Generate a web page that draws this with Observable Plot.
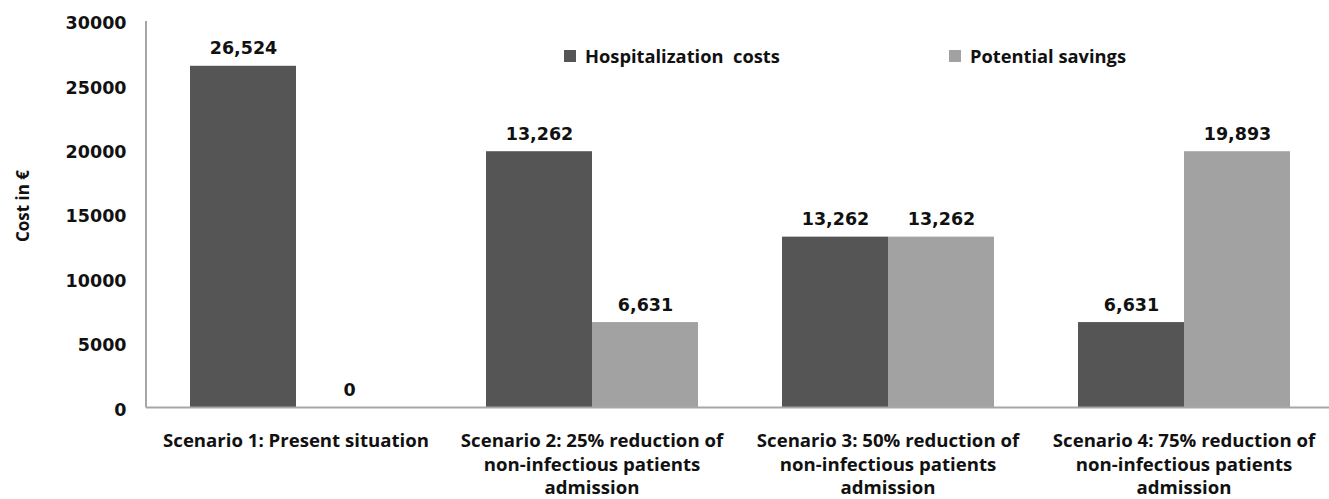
<!DOCTYPE html>
<html>
<head>
<meta charset="utf-8">
<script src="https://cdn.jsdelivr.net/npm/d3@7"></script>
<script src="https://cdn.jsdelivr.net/npm/@observablehq/plot@0.6"></script>
<style>
  html, body { margin: 0; padding: 0; background: #fff; overflow: hidden; }
  #wrap { position: relative; width: 1333px; height: 499px; }
  .legend-item { position: absolute; top: 43px; display: flex; align-items: center; white-space: pre;
    font-family: "Open Sans", sans-serif; font-weight: bold; font-size: 18.3px; color: #111; }
  .legend-item .sw { width: 12px; height: 12px; margin-right: 9px; display: inline-block; }
  #ylabel { position: absolute; left: 22px; top: 206px; transform: translate(-50%, -50%) rotate(-90deg);
    font-family: "Open Sans", sans-serif; font-weight: bold; font-size: 17px; color: #111; white-space: nowrap; }
</style>
</head>
<body>
<div id="wrap"></div>
<script>
// ---- data ----
const scenarios = [
  "Scenario 1: Present situation",
  "Scenario 2: 25% reduction of\nnon-infectious patients\nadmission",
  "Scenario 3: 50% reduction of\nnon-infectious patients\nadmission",
  "Scenario 4: 75% reduction of\nnon-infectious patients\nadmission"
];
const series = ["Hospitalization  costs", "Potential savings"];
const hospitalization = [26524, 19893, 13262, 6631];
const savings = [0, 6631, 13262, 19893];
const hospitalizationLabels = ["26,524", "13,262", "13,262", "6,631"];
const savingsLabels = ["0", "6,631", "13,262", "19,893"];
const yTicks = [0, 5000, 10000, 15000, 20000, 25000, 30000];
const colors = ["#555555", "#a2a2a2"];
const yTitle = "Cost in €";

const data = scenarios.flatMap((s, i) => [
  {scenario: s, series: series[0], value: hospitalization[i], label: hospitalizationLabels[i]},
  {scenario: s, series: series[1], value: savings[i], label: savingsLabels[i]}
]);

const numFont = {fontFamily: "DejaVu Sans", fontWeight: "bold", fontSize: 17.5, fill: "#111"};

const plot = Plot.plot({
  width: 1333, height: 499,
  marginLeft: 146, marginRight: 0, marginTop: 21, marginBottom: 91.5,
  style: {fontFamily: "'Open Sans', sans-serif", background: "white", color: "#111"},
  fx: {domain: scenarios, paddingInner: 0.28, paddingOuter: 0.14, label: null},
  x: {domain: series, padding: 0, axis: null},
  y: {domain: [0, 30000]},
  color: {domain: series, range: colors},
  marks: [
    Plot.axisY({ticks: yTicks, tickSize: 0, tickPadding: 63, label: null,
      tickFormat: d => String(d), dy: 2, ...numFont}),
    Plot.axisFx({anchor: "bottom", tickSize: 0, tickPadding: 22.5, label: null,
      lineHeight: 1.26, fontSize: 18.6, fontWeight: "bold", fill: "#111"}),
    Plot.barY(data, {fx: "scenario", x: "series", y: "value", fill: "series"}),
    Plot.text(data, {fx: "scenario", x: "series", y: "value", text: "label",
      dy: -17.5, lineAnchor: "middle", ...numFont})
  ]
});

// axis lines drawn from the plot's own scales
const ys = plot.scale("y"), fxs = plot.scale("fx");
const svg = d3.select(plot);
const x0 = fxs.range[0], x1 = fxs.range[1];
svg.append("line").attr("x1", x0).attr("x2", x1)
  .attr("y1", ys.apply(0)).attr("y2", ys.apply(0))
  .attr("stroke", "#a6a6a6").attr("stroke-width", 2);
svg.append("line").attr("x1", x0).attr("x2", x0)
  .attr("y1", ys.apply(30000)).attr("y2", ys.apply(0))
  .attr("stroke", "#a6a6a6").attr("stroke-width", 2);

const wrap = document.getElementById("wrap");
wrap.appendChild(plot);

// legend
const legendX = [564, 949];
series.forEach((s, i) => {
  const item = document.createElement("div");
  item.className = "legend-item";
  item.style.left = legendX[i] + "px";
  const sw = document.createElement("span");
  sw.className = "sw"; sw.style.background = colors[i];
  item.appendChild(sw);
  item.appendChild(document.createTextNode(s));
  wrap.appendChild(item);
});

// y axis title
const yl = document.createElement("div");
yl.id = "ylabel"; yl.textContent = yTitle;
wrap.appendChild(yl);
</script>
</body>
</html>
